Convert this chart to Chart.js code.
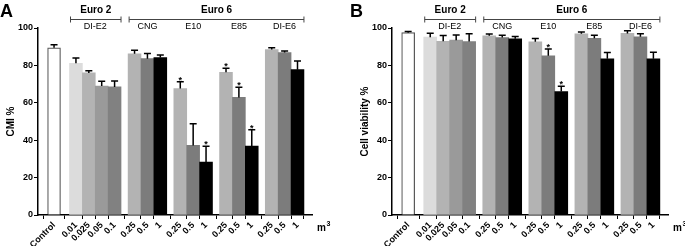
<!DOCTYPE html>
<html>
<head>
<meta charset="utf-8">
<script src="https://cdn.jsdelivr.net/npm/chart.js@4.4.1/dist/chart.umd.min.js"></script>
<style>
  html, body { margin: 0; padding: 0; background: #fff; }
  #wrap { position: relative; width: 685px; height: 246px; }
  canvas { position: absolute; top: 0; }
</style>
</head>
<body>
<div id="wrap">
  <canvas id="chartA" width="342" height="246" style="left:0"></canvas>
  <canvas id="chartB" width="343" height="246" style="left:342px"></canvas>
</div>
<script>
// x categories (doses in m3), grouped by vehicle
const doseLabels = ["Control", "0.01", "0.025", "0.05", "0.1", "0.25", "0.5", "1", "0.25", "0.5", "1", "0.25", "0.5", "1", "0.25", "0.5", "1"];
const groupNames = ["", "DI-E2", "CNG", "E10", "E85", "DI-E6"];
const groupSizes = [1, 4, 3, 3, 3, 3];
const euroNames = ["Euro 2", "Euro 6"];
const euroGroups = [[1, 1], [2, 5]]; // first and last group of each Euro class

// panel A: CMI %
const cmiValues = [89.4, 81.1, 76.0, 69.0, 68.5, 86.2, 83.6, 84.2, 67.6, 37.2, 28.3, 76.3, 62.9, 36.8, 88.5, 86.9, 77.7];
const cmiErrors = [1.6, 2.9, 1.1, 2.5, 3.2, 1.9, 2.7, 1.4, 3.7, 11.6, 8.5, 2.2, 5.4, 8.8, 1.0, 0.8, 4.7];
const cmiSignif = [0, 0, 0, 0, 0, 0, 0, 0, 1, 0, 1, 1, 1, 1, 0, 0, 0];

// panel B: cell viability %
const viaValues = [97.5, 95.1, 92.9, 93.5, 92.8, 95.8, 94.9, 94.2, 92.6, 85.1, 66.0, 96.9, 94.5, 83.5, 97.1, 95.3, 83.5];
const viaErrors = [0.6, 2.1, 3.1, 2.8, 4.1, 1.0, 1.2, 1.2, 1.8, 3.7, 2.8, 0.9, 1.6, 3.4, 1.4, 1.6, 3.5];
const viaSignif = [0, 0, 0, 0, 0, 0, 0, 0, 0, 1, 1, 0, 0, 0, 0, 0, 0];

const yTicks = [0, 20, 40, 60, 80, 100];

const FONT = "'Liberation Sans', Arial, sans-serif";
Chart.defaults.font.family = FONT;
Chart.defaults.color = "#000";

// bar positions on a linear axis: one unit per bar, small gaps between groups
const GAP_CONTROL = 0.7, GAP_GROUP = 0.55;
const positions = [];
const groupStart = [];
let pos = 0;
groupSizes.forEach((n, g) => {
  if (g === 1) pos += GAP_CONTROL;
  else if (g > 1) pos += GAP_GROUP;
  groupStart.push(positions.length);
  for (let i = 0; i < n; i++) { positions.push(pos); pos += 1; }
});

// fill colours
const shadesE2 = ["#dcdcdc", "#b3b3b3", "#9a9a9a", "#818181"];
const shadesE6 = ["#b3b3b3", "#7c7c7c", "#000000"];
const barColors = [], barBorders = [], barBorderWidths = [];
groupSizes.forEach((n, g) => {
  for (let i = 0; i < n; i++) {
    if (g === 0) { barColors.push("#ffffff"); barBorders.push("#555"); barBorderWidths.push(1.2); }
    else { barColors.push(g === 1 ? shadesE2[i] : shadesE6[i]); barBorders.push("rgba(0,0,0,0)"); barBorderWidths.push(0); }
  }
});

function makeChart(id, opt) {
  const decorations = {
    id: "decorations",
    afterDraw(chart) {
      const ctx = chart.ctx;
      const xs = chart.scales.x, ys = chart.scales.y;
      const half = (xs.getPixelForValue(1) - xs.getPixelForValue(0)) / 2;
      ctx.save();

      // error bars and asterisks
      chart.getDatasetMeta(0).data.forEach((bar, i) => {
        const yTop = ys.getPixelForValue(opt.values[i] + opt.errors[i]);
        ctx.strokeStyle = "#000";
        ctx.lineWidth = 1.5;
        ctx.beginPath();
        ctx.moveTo(bar.x, bar.y);
        ctx.lineTo(bar.x, yTop);
        ctx.moveTo(bar.x - 3.5, yTop);
        ctx.lineTo(bar.x + 3.5, yTop);
        ctx.stroke();
        if (opt.signif[i]) {
          ctx.fillStyle = "#000";
          ctx.font = "bold 9px " + FONT;
          ctx.textAlign = "center";
          ctx.textBaseline = "alphabetic";
          ctx.fillText("*", bar.x, yTop + 1);
        }
      });

      // group labels
      ctx.fillStyle = "#000";
      ctx.textAlign = "center";
      ctx.textBaseline = "middle";
      ctx.font = "9px " + FONT;
      groupNames.forEach((name, g) => {
        if (!name) return;
        const a = xs.getPixelForValue(positions[groupStart[g]]) - half;
        const b = xs.getPixelForValue(positions[groupStart[g] + groupSizes[g] - 1]) + half;
        ctx.fillText(name, (a + b) / 2, 27);
      });

      // Euro brackets
      euroNames.forEach((name, k) => {
        const [g0, g1] = euroGroups[k];
        const a = xs.getPixelForValue(positions[groupStart[g0]]) - half + 1;
        const b = xs.getPixelForValue(positions[groupStart[g1] + groupSizes[g1] - 1]) + half;
        ctx.strokeStyle = "#444";
        ctx.lineWidth = 1;
        ctx.beginPath();
        ctx.moveTo(a, 19.5); ctx.lineTo(b, 19.5);
        ctx.moveTo(a, 16.5); ctx.lineTo(a, 22.5);
        ctx.moveTo(b, 16.5); ctx.lineTo(b, 22.5);
        ctx.stroke();
        ctx.font = "bold 10px " + FONT;
        ctx.fillText(name, (a + b) / 2, 10);
      });

      // panel letter
      ctx.textAlign = "left";
      ctx.textBaseline = "alphabetic";
      ctx.font = "bold 18px " + FONT;
      ctx.fillText(opt.letter, opt.letterX, 17);

      // unit
      const ux = chart.chartArea.right + 5;
      ctx.font = "bold 10px " + FONT;
      ctx.fillText("m", ux, 231);
      const mw = ctx.measureText("m").width;
      ctx.font = "bold 7px " + FONT;
      ctx.fillText("3", ux + mw + 0.5, 226);
      ctx.restore();
    }
  };

  return new Chart(document.getElementById(id), {
    type: "bar",
    data: {
      datasets: [{
        data: positions.map((p, i) => ({ x: p, y: opt.values[i] })),
        backgroundColor: barColors,
        borderColor: barBorders,
        borderWidth: barBorderWidths,
        categoryPercentage: 1,
        barPercentage: 1
      }]
    },
    options: {
      responsive: false,
      animation: false,
      layout: { padding: { left: opt.padLeft, top: 28, right: opt.padRight, bottom: 0 } },
      plugins: { legend: { display: false }, tooltip: { enabled: false } },
      scales: {
        x: {
          type: "linear",
          min: -0.62,
          max: 19.4,
          afterBuildTicks: s => { s.ticks = positions.map(v => ({ value: v })); },
          afterFit: s => { s.height = 31; },
          ticks: {
            autoSkip: false,
            minRotation: 45,
            maxRotation: 45,
            padding: 1,
            color: "#000",
            font: { weight: "bold", size: 9 },
            callback: (v, i) => doseLabels[i]
          },
          grid: { drawOnChartArea: false, drawTicks: true, tickLength: 4, color: "#000", lineWidth: 1 },
          border: { color: "#000", width: 1.5 }
        },
        y: {
          min: 0,
          max: 100,
          afterBuildTicks: s => { s.ticks = yTicks.map(v => ({ value: v })); },
          afterFit: s => { s.width = opt.yWidth; },
          ticks: { color: "#000", padding: 1, font: { weight: "bold", size: 9 } },
          grid: { drawOnChartArea: false, drawTicks: true, tickLength: 4, color: "#000", lineWidth: 1 },
          border: { color: "#000", width: 1.5 },
          title: { display: true, text: opt.yTitle, color: "#000", padding: { top: 5, bottom: 0 }, font: { weight: "bold", size: 10 } }
        }
      }
    },
    plugins: [decorations]
  });
}

makeChart("chartA", {
  values: cmiValues, errors: cmiErrors, signif: cmiSignif,
  yTitle: "CMI %", letter: "A", letterX: 0,
  padLeft: 0, yWidth: 38, padRight: 30
});
makeChart("chartB", {
  values: viaValues, errors: viaErrors, signif: viaSignif,
  yTitle: "Cell viability %", letter: "B", letterX: 8,
  padLeft: 12, yWidth: 38, padRight: 17
});
</script>
</body>
</html>
